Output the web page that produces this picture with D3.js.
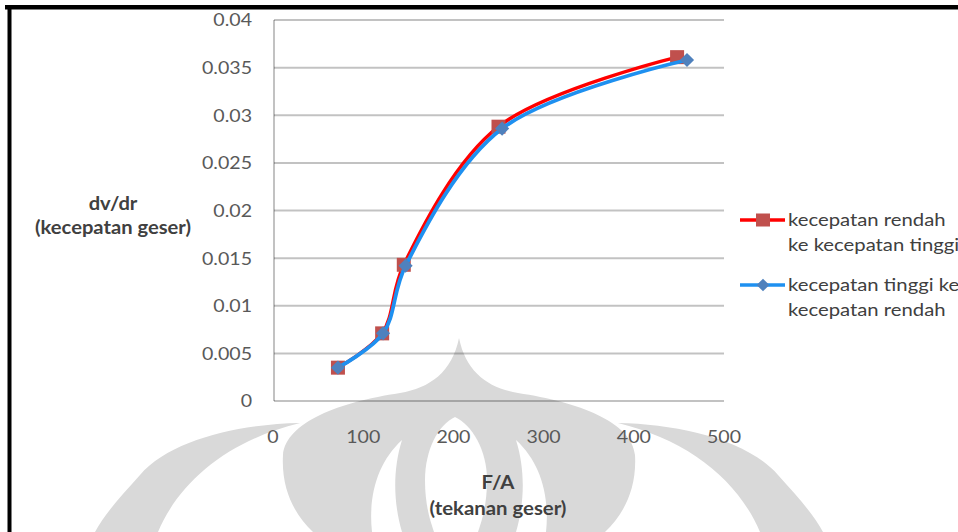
<!DOCTYPE html>
<html>
<head>
<meta charset="utf-8">
<script src="https://cdn.jsdelivr.net/npm/d3@7"></script>
<style>
  html, body { margin: 0; padding: 0; background: #fff; }
  svg { display: block; }
</style>
</head>
<body>
<script>
// ---- data ----
const xTickValues = [0, 100, 200, 300, 400, 500];
const yTickValues = [0, 0.005, 0.01, 0.015, 0.02, 0.025, 0.03, 0.035, 0.04];

// F/A (tekanan geser) vs dv/dr (kecepatan geser)
const lowToHighX = [72, 121, 145, 250, 448];
const lowToHighY = [0.0035, 0.0071, 0.0143, 0.0288, 0.0361];
const highToLowX = [72, 122, 147, 254, 459];
const highToLowY = [0.0035, 0.0071, 0.0142, 0.0286, 0.0358];

const seriesLabels = [
  ["kecepatan rendah", "ke kecepatan tinggi"],
  ["kecepatan tinggi ke", "kecepatan rendah"]
];
const yTitle = ["dv/dr", "(kecepatan geser)"];
const xTitle = ["F/A", "(tekanan geser)"];

// ---- layout ----
const W = 958, H = 532;
const FONT = "Lato, 'Open Sans', sans-serif";
const svg = d3.select("body").append("svg").attr("width", W).attr("height", H);

const x = d3.scaleLinear().domain([0, 500]).range([273, 724]);
const y = d3.scaleLinear().domain([0, 0.04]).range([401, 20]);

// text helper: glyphs are drawn slightly widened
function placeText(sel, px, py, sx) {
  return sel.attr("transform", (d, i) => `translate(${px(d, i)},${py(d, i)}) scale(${sx},1)`);
}

// ---- background emblem (light grey) ----
const mark = svg.append("g").attr("fill", "#d9d9d9");
mark.append("path").attr("d",
  "M300,423 C240,424 170,440 140,475 C120,497 104,515 95,532 L158,532 C180,480 230,440 300,423 Z");
mark.append("path").attr("d",
  "M618,423 C678,424 748,440 778,475 C798,497 814,515 823,532 L760,532 C738,480 688,440 618,423 Z");
mark.append("path").attr("d",
  "M459,338 C452,372 430,388 400,393 C340,402 286,422 283,455 C281,490 295,515 313,532 " +
  "L605,532 C623,515 637,490 635,455 C632,422 578,402 518,393 C488,388 466,372 459,338 Z");
const hole = svg.append("g").attr("fill", "#fff");
hole.append("path").attr("d",
  "M455,417 C438,425 425,450 425,480 C425,505 430,520 434,532 L478,532 C482,520 487,505 487,480 C487,450 472,425 455,417 Z");
hole.append("path").attr("d",
  "M372,532 C368,495 378,462 402,440 C392,472 394,505 402,532 Z");
hole.append("path").attr("d",
  "M546,532 C550,495 540,462 516,440 C526,472 524,505 516,532 Z");

// ---- frame ----
svg.append("rect").attr("x", 5).attr("y", 5).attr("width", W - 5).attr("height", 4.5).attr("fill", "#000");
svg.append("rect").attr("x", 7.5).attr("y", 5).attr("width", 4).attr("height", H - 5).attr("fill", "#000");

// ---- grid ----
const grid = svg.append("g");
grid.selectAll("line.h").data(yTickValues).join("line")
  .attr("x1", x(0) + 1).attr("x2", x(500))
  .attr("y1", d => y(d)).attr("y2", d => y(d))
  .attr("stroke", "rgba(0,0,0,0.24)").attr("stroke-width", 2);
grid.append("line")
  .attr("x1", x(0) + 1).attr("x2", x(0) + 1)
  .attr("y1", y(0.04)).attr("y2", y(0))
  .attr("stroke", "rgba(0,0,0,0.24)").attr("stroke-width", 2);

// ---- tick labels ----
const fmtY = d => d === 0 ? "0" : String(+d.toFixed(3));
svg.append("g").selectAll("text").data(yTickValues).join("text")
  .call(placeText, () => 252, d => y(d), 1.1)
  .attr("dy", "0.36em")
  .attr("text-anchor", "end")
  .attr("font-family", FONT)
  .attr("font-size", 17.8)
  .attr("fill", "#595959")
  .text(fmtY);

svg.append("g").selectAll("text").data(xTickValues).join("text")
  .call(placeText, d => x(d), () => 437, 1.1)
  .attr("dy", "0.36em")
  .attr("text-anchor", "middle")
  .attr("font-family", FONT)
  .attr("font-size", 17.8)
  .attr("fill", "#595959")
  .text(d => d);

// ---- axis titles ----
const titleStyle = sel => sel
  .attr("font-family", FONT)
  .attr("font-weight", "bold")
  .attr("font-size", 18.5)
  .attr("fill", "#404040")
  .attr("text-anchor", "middle");

svg.append("g").selectAll("text").data(yTitle).join("text")
  .call(placeText, () => 113, (d, i) => 210 + i * 24, 1.09)
  .call(titleStyle).text(d => d);

svg.append("g").selectAll("text").data(xTitle).join("text")
  .call(placeText, () => 498, (d, i) => 489 + i * 26, 1.1)
  .call(titleStyle).text(d => d);

// ---- series ----
const lowToHigh = lowToHighX.map((v, i) => [v, lowToHighY[i]]);
const highToLow = highToLowX.map((v, i) => [v, highToLowY[i]]);

const line = d3.line()
  .x(d => x(d[0])).y(d => y(d[1]))
  .curve(d3.curveCatmullRom.alpha(0.5));

const RED = "#ff0000", RED_MARK = "#c0504d";
const BLUE = "#1e90f0", BLUE_MARK = "#4f81bd";

svg.append("path").datum(lowToHigh)
  .attr("d", line).attr("fill", "none")
  .attr("stroke", RED).attr("stroke-width", 3.5);
svg.append("g").selectAll("rect").data(lowToHigh).join("rect")
  .attr("x", d => x(d[0]) - 7).attr("y", d => y(d[1]) - 7)
  .attr("width", 14).attr("height", 14)
  .attr("fill", RED_MARK);

svg.append("path").datum(highToLow)
  .attr("d", line).attr("fill", "none")
  .attr("stroke", BLUE).attr("stroke-width", 3.8);
svg.append("g").selectAll("rect").data(highToLow).join("rect")
  .attr("transform", d => `translate(${x(d[0])},${y(d[1])}) rotate(45)`)
  .attr("x", -5).attr("y", -5).attr("width", 10).attr("height", 10)
  .attr("fill", BLUE_MARK);

// ---- legend ----
const legend = svg.append("g");
const legendRows = [
  { y: 220, stroke: RED, fill: RED_MARK, kind: "square", lines: seriesLabels[0] },
  { y: 285, stroke: BLUE, fill: BLUE_MARK, kind: "diamond", lines: seriesLabels[1] }
];
legendRows.forEach(r => {
  legend.append("line")
    .attr("x1", 740).attr("x2", 785).attr("y1", r.y).attr("y2", r.y)
    .attr("stroke", r.stroke).attr("stroke-width", 3.5);
  if (r.kind === "square") {
    legend.append("rect").attr("x", 756).attr("y", r.y - 6.5)
      .attr("width", 14).attr("height", 13).attr("fill", r.fill);
  } else {
    legend.append("rect").attr("transform", `translate(763,${r.y}) rotate(45)`)
      .attr("x", -4.5).attr("y", -4.5).attr("width", 9).attr("height", 9).attr("fill", r.fill);
  }
  legend.selectAll(null).data(r.lines).join("text")
    .call(placeText, () => 788, (d, i) => r.y + 6 + i * 25, 1.14)
    .attr("font-family", FONT)
    .attr("font-size", 17.8)
    .attr("fill", "#404040")
    .text(d => d);
});
</script>
</body>
</html>
